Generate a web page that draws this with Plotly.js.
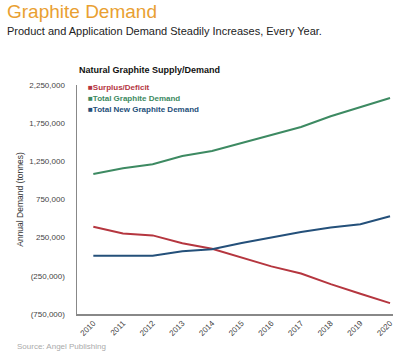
<!DOCTYPE html>
<html><head><meta charset="utf-8">
<script src="https://cdn.plot.ly/plotly-3.0.1.min.js"></script>
<style>html,body{margin:0;padding:0;background:#fff;}#chart{width:407px;height:352px;}</style>
</head><body><div id="chart"></div>
<script>
const years = ['2010','2011','2012','2013','2014','2015','2016','2017','2018','2019','2020'];
const surplusDeficit = [392000, 305000, 280000, 176000, 104000, -13000, -126000, -220000, -359000, -484000, -608000];
const totalGraphiteDemand = [1083000, 1160000, 1212000, 1320000, 1386000, 1490000, 1597000, 1700000, 1840000, 1965000, 2080000];
const totalNewGraphiteDemand = [13000, 13000, 14000, 73000, 99000, 181000, 254000, 323000, 383000, 427000, 531000];
const seriesNames = ['Surplus/Deficit', 'Total Graphite Demand', 'Total New Graphite Demand'];
const seriesColors = ['#b5363f', '#3d8a62', '#24507a'];
const yTickVals = [-750000, -250000, 250000, 750000, 1250000, 1750000, 2250000];
const yTickText = ['(750,000)', '(250,000)', '250,000', '750,000', '1,250,000', '1,750,000', '2,250,000'];

const seriesData = [surplusDeficit, totalGraphiteDemand, totalNewGraphiteDemand];
const traces = seriesData.map((d, i) => ({
  x: years, y: d, type: 'scatter', mode: 'lines', name: seriesNames[i],
  line: {color: seriesColors[i], width: 2}, showlegend: false
}));

const sans = 'Liberation Sans, Arial, sans-serif';
const PW = 316, PH = 229;
const annotations = [
  {text: 'Graphite Demand', xref: 'paper', yref: 'paper', x: -72/PW, y: 1 + 86/PH, xanchor: 'left', yanchor: 'top', showarrow: false, font: {family: sans, size: 19, color: '#e9a031'}},
  {text: 'Product and Application Demand Steadily Increases, Every Year.', xref: 'paper', yref: 'paper', x: -72/PW, y: 1 + 62/PH, xanchor: 'left', yanchor: 'top', showarrow: false, font: {family: sans, size: 11, color: '#222'}},
  {text: '<b>Natural Graphite Supply/Demand</b>', xref: 'paper', yref: 'paper', x: 0, y: 1 + 22/PH, xanchor: 'left', yanchor: 'top', showarrow: false, font: {family: sans, size: 9, color: '#111'}},
  {text: 'Source: Angel Publishing', xref: 'paper', yref: 'paper', x: -62/PW, y: -26/PH, xanchor: 'left', yanchor: 'top', showarrow: false, font: {family: sans, size: 8, color: '#aaa'}}
];
seriesNames.forEach((n, i) => {
  annotations.push({text: '<b>■' + n + '</b>', xref: 'paper', yref: 'paper', x: 9/PW, y: 1 + (4 - i*11)/PH, xanchor: 'left', yanchor: 'top', showarrow: false, font: {family: sans, size: 8, color: seriesColors[i]}});
});

const layout = {
  width: 407, height: 352,
  margin: {l: 77, r: 14, t: 85, b: 38},
  paper_bgcolor: '#fff', plot_bgcolor: '#fff',
  showlegend: false,
  xaxis: {
    type: 'category', range: [-0.55, 10.1], showgrid: false, zeroline: false,
    showline: true, linecolor: '#888', linewidth: 1.5, ticks: '',
    tickangle: -45, tickfont: {family: sans, size: 8, color: '#444'}
  },
  yaxis: {
    range: [-750000, 2250000], tickvals: yTickVals, ticktext: yTickText,
    showgrid: false, zeroline: false, showline: true, linecolor: '#888', linewidth: 1.5, ticks: '',
    ticklabelstandoff: 9,
    tickfont: {family: sans, size: 8, color: '#444'},
    title: {text: 'Annual Demand (tonnes)', font: {family: sans, size: 8.5, color: '#333'}, standoff: 4}
  },
  annotations: annotations
};
Plotly.newPlot('chart', traces, layout, {displayModeBar: false, staticPlot: true});
</script></body></html>
